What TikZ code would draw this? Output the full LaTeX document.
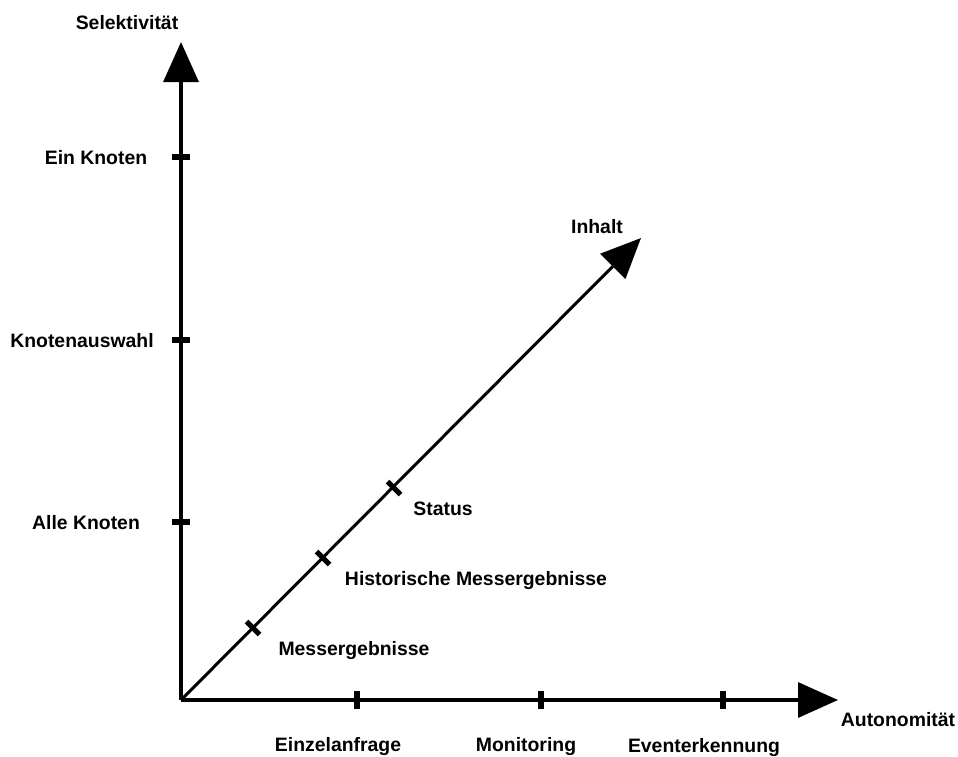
\documentclass[tikz,border=0pt]{standalone}
\usepackage{fontspec}
\setmainfont{Liberation Sans}
\usetikzlibrary{arrows.meta}
\begin{document}
\begin{tikzpicture}[x=1pt,y=-1pt,
  axis/.style={line width=3.4pt,-{Triangle[length=40pt,width=35pt]}},
  tickmark/.style={line width=5.5pt},
  lbl/.style={font=\fontsize{19.4}{22}\selectfont\bfseries,inner sep=0pt,text height=14pt,text depth=0pt}]
  \useasboundingbox (0,0) rectangle (958,756);
  % axes
  \coordinate (O) at (181,700);
  \coordinate (ytip) at (181,42);
  \coordinate (xtip) at (838,700);
  \coordinate (dtip) at (641,238);
  \draw[axis] (O) -- (ytip);
  \draw[axis] (O) -- (xtip);
  \draw[axis,line width=3pt] (O) -- (dtip);
  % tick positions
  \coordinate (y1) at (181,522);
  \coordinate (y2) at (181,340);
  \coordinate (y3) at (181,157);
  \coordinate (x1) at (357,700);
  \coordinate (x2) at (541,700);
  \coordinate (x3) at (723,700);
  \coordinate (d1) at (253,628);
  \coordinate (d2) at (323,558);
  \coordinate (d3) at (394,488);
  \foreach \t in {y1,y2,y3} \draw[tickmark] ([xshift=-9pt]\t) -- ([xshift=9pt]\t);
  \foreach \t in {x1,x2,x3} \draw[tickmark] ([yshift=-9pt]\t) -- ([yshift=9pt]\t);
  \foreach \t in {d1,d2,d3} \draw[tickmark,line width=5pt] ([shift={(-6.5,-6.5)}]\t) -- ([shift={(6.5,6.5)}]\t);
  % labels
  \node[lbl] (ly) at (127,22) {Selektivität};
  \node[lbl] (ly3) at (96,157) {Ein Knoten};
  \node[lbl] (ly2) at (82,340) {Knotenauswahl};
  \node[lbl] (ly1) at (86,522) {Alle Knoten};
  \node[lbl] (ld) at (597,226) {Inhalt};
  \node[lbl] (ld3) at (443,508) {Status};
  \node[lbl] (ld2) at (476,578) {Historische Messergebnisse};
  \node[lbl] (ld1) at (354,648) {Messergebnisse};
  \node[lbl] (lx1) at (338,744) {Einzelanfrage};
  \node[lbl] (lx2) at (526,744) {Monitoring};
  \node[lbl] (lx3) at (704,745) {Eventerkennung};
  \node[lbl] (lx) at (898,719) {Autonomität};
\end{tikzpicture}
\end{document}
